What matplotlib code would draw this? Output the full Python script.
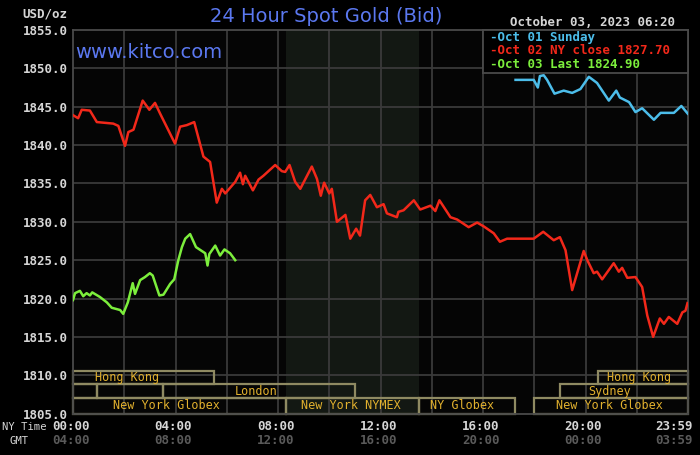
import matplotlib
matplotlib.use('Agg')
import matplotlib.pyplot as plt
from matplotlib.patches import Rectangle
from matplotlib.transforms import blended_transform_factory

# ---------------- data ----------------
# Oct 01 Sunday (blue)
blue_hours = [17.27, 17.98, 18.14, 18.22, 18.37, 18.50, 18.79, 19.15, 19.48, 19.80,
              20.13, 20.45, 20.91, 21.20, 21.34, 21.70, 21.95, 22.21, 22.67, 22.93,
              23.45, 23.74, 23.99]
blue_prices = [1848.5, 1848.5, 1847.5, 1849.0, 1849.1, 1848.5, 1846.7, 1847.1, 1846.8, 1847.3,
               1848.9, 1848.1, 1845.8, 1847.1, 1846.2, 1845.6, 1844.3, 1844.8, 1843.3, 1844.2,
               1844.2, 1845.1, 1844.1]

# Oct 02 NY close 1827.70 (red)
red_hours = [0.00, 0.20, 0.34, 0.66, 0.93, 1.57, 1.77, 2.03, 2.16, 2.36,
             2.72, 2.98, 3.20, 3.40, 3.98, 4.18, 4.44, 4.73, 5.09, 5.35,
             5.61, 5.81, 5.94, 6.33, 6.52, 6.63, 6.72, 7.02, 7.24, 7.43,
             7.89, 8.15, 8.28, 8.45, 8.67, 8.87, 9.32, 9.52, 9.67, 9.80,
             10.00, 10.10, 10.30, 10.63, 10.82, 11.05, 11.20, 11.40, 11.60, 11.86,
             12.12, 12.25, 12.64, 12.70, 12.90, 13.30, 13.55, 13.95, 14.14, 14.30,
             14.73, 14.99, 15.44, 15.77, 16.03, 16.42, 16.66, 16.94, 17.98, 18.35,
             18.76, 19.00, 19.22, 19.48, 19.93, 20.07, 20.32, 20.45, 20.65, 21.10,
             21.30, 21.43, 21.63, 21.95, 22.21, 22.41, 22.64, 22.90, 23.06, 23.25,
             23.58, 23.78, 23.90, 23.98]
red_prices = [1843.9, 1843.5, 1844.6, 1844.5, 1843.0, 1842.8, 1842.5, 1839.9, 1841.7, 1842.0,
              1845.8, 1844.6, 1845.5, 1844.1, 1840.2, 1842.4, 1842.6, 1843.0, 1838.5, 1837.8,
              1832.5, 1834.3, 1833.7, 1835.2, 1836.4, 1834.9, 1836.0, 1834.1, 1835.5, 1836.0,
              1837.4, 1836.6, 1836.5, 1837.4, 1835.2, 1834.3, 1837.2, 1835.6, 1833.4, 1835.1,
              1833.7, 1834.3, 1830.0, 1830.9, 1827.8, 1829.1, 1828.2, 1832.8, 1833.5, 1831.9,
              1832.3, 1831.1, 1830.6, 1831.3, 1831.5, 1832.8, 1831.6, 1832.1, 1831.4, 1832.8,
              1830.6, 1830.3, 1829.3, 1829.9, 1829.4, 1828.5, 1827.4, 1827.8, 1827.8, 1828.7,
              1827.6, 1828.0, 1826.3, 1821.1, 1826.2, 1825.0, 1823.3, 1823.5, 1822.5, 1824.6,
              1823.5, 1824.0, 1822.7, 1822.8, 1821.5, 1817.8, 1815.0, 1817.4, 1816.7, 1817.6,
              1816.7, 1818.2, 1818.4, 1819.4]

# Oct 03 Last 1824.90 (green)
green_hours = [0.00, 0.08, 0.27, 0.40, 0.53, 0.66, 0.75, 1.05, 1.32, 1.51,
               1.84, 1.96, 2.14, 2.33, 2.42, 2.62, 2.81, 3.00, 3.11, 3.37,
               3.53, 3.79, 3.95, 4.11, 4.25, 4.38, 4.57, 4.80, 5.16, 5.25,
               5.32, 5.55, 5.74, 5.91, 6.13, 6.33]
green_prices = [1819.8, 1820.7, 1821.0, 1820.3, 1820.7, 1820.4, 1820.8, 1820.2, 1819.5, 1818.8,
                1818.5, 1818.0, 1819.5, 1822.0, 1820.6, 1822.4, 1822.8, 1823.3, 1823.0, 1820.4,
                1820.5, 1821.9, 1822.5, 1825.0, 1826.7, 1827.8, 1828.4, 1826.7, 1825.9, 1824.3,
                1825.8, 1826.9, 1825.6, 1826.4, 1825.9, 1825.0]

y_ticks = [1805, 1810, 1815, 1820, 1825, 1830, 1835, 1840, 1845, 1850, 1855]
ny_time_labels = ['00:00', '04:00', '08:00', '12:00', '16:00', '20:00', '23:59']
gmt_labels = ['04:00', '08:00', '12:00', '16:00', '20:00', '00:00', '03:59']
tick_hours = [0, 4, 8, 12, 16, 20, 24]

legend_labels = ['Oct 01 Sunday', 'Oct 02 NY close 1827.70', 'Oct 03 Last 1824.90']

# sessions: (label, start hour, end hour, row, label centre hour)
sessions = [
    ('Hong Kong', 0.0, 5.5, 0, 2.1),
    ('Hong Kong', 20.5, 24.0, 0, 22.1),
    ('', 0.0, 0.95, 1, None),
    ('', 0.95, 3.5, 1, None),
    ('London', 3.5, 11.0, 1, 7.15),
    ('Sydney', 19.0, 24.0, 1, 20.95),
    ('New York Globex', 0.0, 8.33, 2, 3.65),
    ('New York NYMEX', 8.33, 13.5, 2, 10.85),
    ('NY Globex', 13.5, 17.25, 2, 15.2),
    ('New York Globex', 18.0, 24.0, 2, 20.95),
]
nymex_span = (8.33, 13.5)

# ---------------- style ----------------
BLUE = '#4cbdea'
RED = '#f2281a'
GREEN = '#7cee3c'
GRID = '#3a3a3a'
TXT = '#d6d6d6'
GMT_C = '#5a5a5a'
TITLE_C = '#5b78f0'
SESS_EDGE = '#8f8a62'
SESS_TXT = '#e2b12e'
MONO = 'DejaVu Sans Mono'

W, H = 700, 455
L, R, T, B = 73, 688, 30, 413.6
fig = plt.figure(figsize=(7, 4.55), dpi=100, facecolor='black')
ax = fig.add_axes([L / W, 1 - B / H, (R - L) / W, (B - T) / H])
ax.set_facecolor('#050505')
ax.set_xlim(0, 24)
ax.set_ylim(1805, 1855)

ax.axvspan(*nymex_span, color='#131813', zorder=0, lw=0)
for y in y_ticks[1:-1]:
    ax.axhline(y, color=GRID, lw=1.3, zorder=1)
for h in range(2, 24, 2):
    ax.axvline(h, color=GRID, lw=1.3, zorder=1)
for s in ax.spines.values():
    s.set_color('#4a4a4a')
    s.set_linewidth(1.3)

ax.plot(blue_hours, blue_prices, color=BLUE, lw=1.8, zorder=3)
ax.plot(red_hours, red_prices, color=RED, lw=1.8, zorder=3)
ax.plot(green_hours, green_prices, color=GREEN, lw=1.8, zorder=4)

# y ticks
ax.set_yticks(y_ticks)
ax.set_yticklabels([f'{v:.1f}' for v in y_ticks], fontfamily=MONO,
                   fontweight='bold', fontsize=9, color=TXT)
ax.tick_params(axis='y', length=0, pad=4)
ax.set_xticks([])

# session boxes
row_edges = [(1808.8, 1810.6), (1807.0, 1808.8), (1805.0, 1807.0)]
for name, s0, s1, row, cx in sessions:
    y0, y1 = row_edges[row]
    ax.add_patch(Rectangle((s0, y0), s1 - s0, y1 - y0, fill=False,
                           edgecolor=SESS_EDGE, lw=1.6, zorder=2, clip_on=False))
    if name:
        ax.text(cx, (y0 + y1) / 2, name, ha='center', va='center',
                fontfamily=MONO, fontsize=8.5, color=SESS_TXT, zorder=5)

# x labels
tr = blended_transform_factory(ax.transData, fig.transFigure)
for h, lab, g in zip(tick_hours, ny_time_labels, gmt_labels):
    ha = 'right' if h == 24 else 'center'
    xx = 24.18 if h == 24 else h - 0.08
    ax.text(xx, 1 - 427 / H, lab, transform=tr, ha=ha, va='center',
            fontfamily=MONO, fontweight='bold', fontsize=9, color=TXT)
    ax.text(xx, 1 - 441 / H, g, transform=tr, ha=ha, va='center',
            fontfamily=MONO, fontweight='bold', fontsize=9, color=GMT_C)
fig.text(2 / W, 1 - 427 / H, 'NY Time', ha='left', va='center',
         fontfamily=MONO, fontsize=7.6, color=TXT)
fig.text(10 / W, 1 - 441 / H, 'GMT', ha='left', va='center',
         fontfamily=MONO, fontsize=7.6, color=TXT)
fig.text(67 / W, 1 - 14 / H, 'USD/oz', ha='right', va='center',
         fontfamily=MONO, fontweight='bold', fontsize=9, color=TXT)

# titles
fig.text(326 / W, 1 - 17 / H, '24 Hour Spot Gold (Bid)', ha='center', va='center',
         fontfamily='DejaVu Sans', fontsize=14, color=TITLE_C)
fig.text(675 / W, 1 - 22 / H, 'October 03, 2023 06:20', ha='right', va='center',
         fontfamily=MONO, fontweight='bold', fontsize=9, color=TXT)
fig.text(75 / W, 1 - 53 / H, 'www.kitco.com', ha='left', va='center',
         fontfamily='DejaVu Sans', fontsize=14, color=TITLE_C)

# legend box
lax = fig.add_axes([483 / W, 1 - 73 / H, (R - 483) / W, 43 / H])
lax.set_facecolor('#000000')
lax.set_xticks([]); lax.set_yticks([])
for s in lax.spines.values():
    s.set_color('#4a4a4a'); s.set_linewidth(1.3)
for i, (lab, c) in enumerate(zip(legend_labels, [BLUE, RED, GREEN])):
    yy = 1 - (7 + 14 * i) / 43
    lax.text(7 / (R - 483), yy, '-' + lab, transform=lax.transAxes, ha='left',
             va='center', fontfamily=MONO, fontweight='bold', fontsize=9, color=c)

fig.savefig('out.png', dpi=100, facecolor='black')
